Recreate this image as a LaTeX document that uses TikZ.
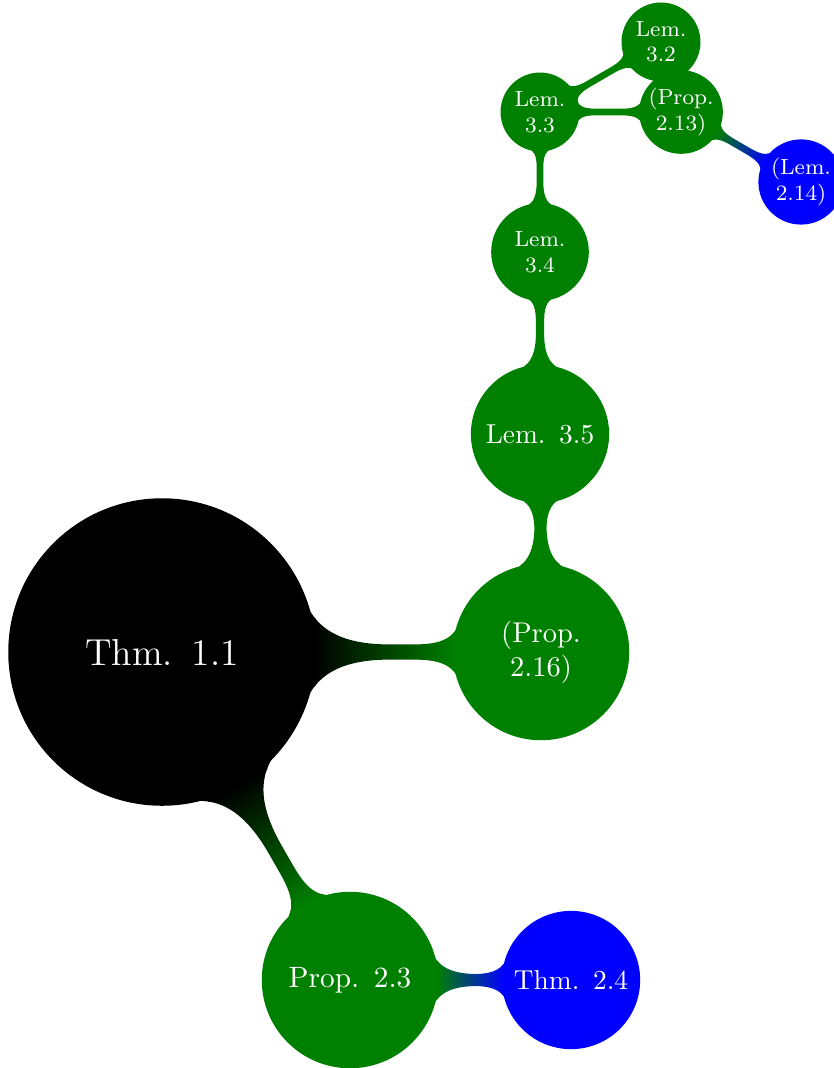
\documentclass[tikz,border=0pt]{standalone}
\usetikzlibrary{mindmap,backgrounds}
\colorlet{dgreen}{green!50!black}

\begin{document}
\begin{tikzpicture}[mindmap, text=white,
    every concept/.style={inner sep=0pt, align=center},
    thmbig/.style={concept, concept color=black, minimum size=3.9cm, text width=3cm, font=\fontsize{13.7}{16}\selectfont},
    bigc/.style={concept, minimum size=2.22cm, text width=2cm, font=\fontsize{10.4}{12.5}\selectfont},
    midc/.style={concept, minimum size=1.73cm, text width=1.6cm, font=\fontsize{10}{12}\selectfont},
    smallc/.style={concept, inner sep=-2pt, text width=0.85cm, font=\fontsize{8}{9.3}\selectfont},
    link/.style 2 args={circle connection bar switch color=from (#1) to (#2)}]
	%%%%% START %%%%%
	\useasboundingbox (0, 0) rectangle (10.692, -13.692);
	
	\node[thmbig] (t11) at (2.077, -8.359) {Thm. 1.1};
	\node[bigc, concept color=dgreen] (p216) at (6.936, -8.359) {(Prop.\\2.16)};
	\node[midc, concept color=dgreen] (l35) at (6.923, -5.564) {Lem. 3.5};
	\node[smallc, concept color=dgreen, minimum size=1.21cm] (l34) at (6.923, -3.231) {Lem.\\3.4};
	\node[smallc, concept color=dgreen, minimum size=0.97cm] (l33) at (6.923, -1.436) {Lem.\\3.3};
	\node[smallc, concept color=dgreen, minimum size=0.97cm] (l32) at (8.474, -0.538) {Lem.\\3.2};
	\node[smallc, concept color=dgreen, minimum size=1.03cm] (p213) at (8.731, -1.436) {(Prop.\\2.13)};
	\node[smallc, concept color=blue, minimum size=1.05cm] (l214) at (10.269, -2.333) {(Lem.\\2.14)};
	
	\node[bigc, concept color=dgreen, font=\fontsize{10.7}{13}\selectfont] (p23) at (4.487, -12.564) {Prop. 2.3};
	\node[midc, concept color=blue] (t24) at (7.321, -12.564) {Thm. 2.4};
	
	\begin{scope}[on background layer]
		\path[line width=6pt] (t11) to[link={black}{dgreen}] (p216);
		\path[line width=4.6pt] (t11) to[link={black}{dgreen}] (p23);
		\path[line width=4.4pt] (p23) to[link={dgreen}{blue}] (t24);
		
		\path[line width=4.4pt] (p216) to[link={dgreen}{dgreen}] (l35);
		\path[line width=2.9pt] (l35) to[link={dgreen}{dgreen}] (l34);
		\path[line width=2.4pt] (l34) to[link={dgreen}{dgreen}] (l33);
		\path[line width=2.5pt] (l33) to[link={dgreen}{dgreen}] (l32);
		\path[line width=2.9pt] (l33) to[link={dgreen}{dgreen}] (p213);
		\path[line width=2.5pt] (p213) to[link={dgreen}{blue}] (l214);
	\end{scope}
	
	%%%%% END %%%%%
\end{tikzpicture}
\end{document}
